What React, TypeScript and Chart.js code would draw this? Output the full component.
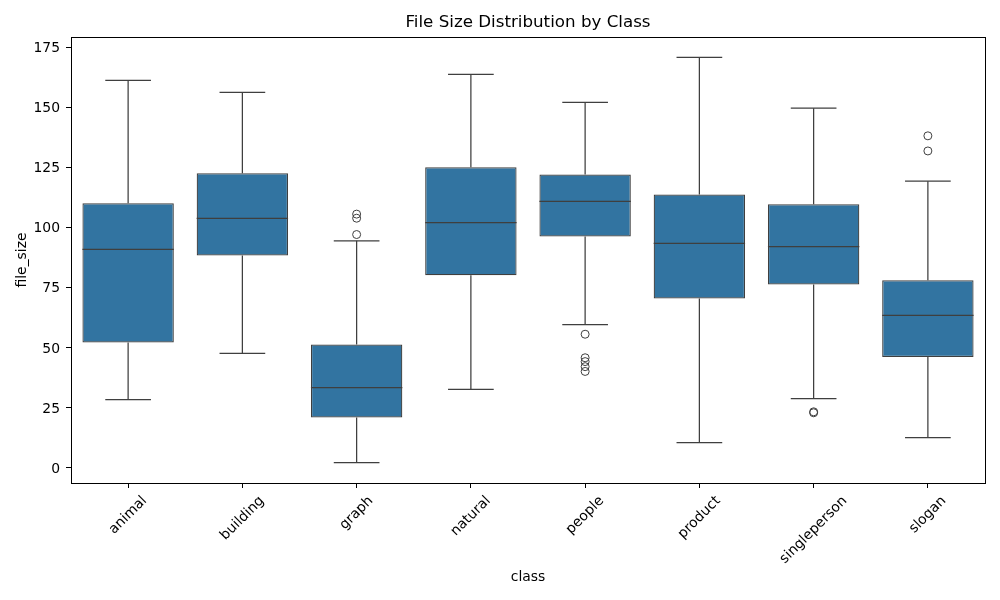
import React, { useEffect, useRef } from "react";
import { Chart, registerables } from "chart.js";

Chart.register(...registerables);

const categories = ["animal", "building", "graph", "natural", "people", "product", "singleperson", "slogan"];
const whiskerLow = [28.3, 47.5, 2.0, 32.5, 59.5, 10.4, 28.7, 12.5];
const q1 = [52.1, 88.3, 20.8, 80.0, 96.2, 70.4, 76.2, 46.0];
const median = [90.8, 103.7, 33.3, 102.0, 110.8, 93.3, 92.0, 63.3];
const q3 = [110.0, 122.5, 51.2, 125.0, 122.0, 113.7, 109.6, 78.0];
const whiskerHigh = [161.2, 156.2, 94.4, 163.7, 152.0, 170.8, 149.6, 119.2];
const outlierClass = ["graph", "graph", "graph", "people", "people", "people", "people", "people", "singleperson", "singleperson", "slogan", "slogan"];
const outlierValue = [97.0, 103.8, 105.5, 55.5, 45.7, 44.1, 42.0, 40.0, 23.2, 22.8, 131.8, 138.1];
const yTicks = [0, 25, 50, 75, 100, 125, 150, 175];

const BOX = "#3274a1";
const LINE = "#3f3f3f";
const FONT = "'DejaVu Sans', sans-serif";

const allVals = [...whiskerLow, ...whiskerHigh, ...outlierValue];
const dMin = Math.min(...allVals);
const dMax = Math.max(...allVals);
const margin = (dMax - dMin) * 0.05;

const boxPlugin = {
  id: "boxExtras",
  afterDatasetsDraw(chart: any) {
    const { ctx } = chart;
    const x = chart.scales.x;
    const y = chart.scales.y;
    const step = x.getPixelForValue(1) - x.getPixelForValue(0);
    const boxW = step * 0.8;
    ctx.save();
    ctx.strokeStyle = LINE;
    ctx.lineWidth = 1.25;
    categories.forEach((_, i) => {
      const cx = x.getPixelForValue(i);
      const cap = boxW / 4;
      const segs: [number, number, number, number][] = [
        [cx, y.getPixelForValue(q3[i]), cx, y.getPixelForValue(whiskerHigh[i])],
        [cx, y.getPixelForValue(q1[i]), cx, y.getPixelForValue(whiskerLow[i])],
        [cx - cap, y.getPixelForValue(whiskerHigh[i]), cx + cap, y.getPixelForValue(whiskerHigh[i])],
        [cx - cap, y.getPixelForValue(whiskerLow[i]), cx + cap, y.getPixelForValue(whiskerLow[i])],
        [cx - boxW / 2, y.getPixelForValue(median[i]), cx + boxW / 2, y.getPixelForValue(median[i])],
      ];
      segs.forEach(([x1, y1, x2, y2]) => {
        ctx.beginPath();
        ctx.moveTo(x1, y1);
        ctx.lineTo(x2, y2);
        ctx.stroke();
      });
    });
    ctx.restore();
  },
  afterDraw(chart: any) {
    const { ctx, chartArea } = chart;
    const x = chart.scales.x;
    ctx.save();
    // frame
    ctx.strokeStyle = "#000";
    ctx.lineWidth = 1;
    ctx.strokeRect(
      Math.round(chartArea.left) + 0.5,
      Math.round(chartArea.top) + 0.5,
      Math.round(chartArea.right - chartArea.left),
      Math.round(chartArea.bottom - chartArea.top)
    );
    // title
    ctx.fillStyle = "#000";
    ctx.font = `16.7px ${FONT}`;
    ctx.textAlign = "center";
    ctx.textBaseline = "middle";
    ctx.fillText("File Size Distribution by Class", (chartArea.left + chartArea.right) / 2, 23);
    // rotated x tick labels, centred under each tick
    ctx.font = `13.9px ${FONT}`;
    const h = 16;
    const top = chartArea.bottom + 10;
    categories.forEach((label, i) => {
      const cx = x.getPixelForValue(i);
      const w = ctx.measureText(label).width;
      const cy = top + (w + h) / (2 * Math.SQRT2);
      ctx.save();
      ctx.translate(cx, cy);
      ctx.rotate(-Math.PI / 4);
      ctx.fillText(label, 0, 0);
      ctx.restore();
    });
    ctx.restore();
  },
};

export default function App() {
  const ref = useRef<HTMLCanvasElement>(null);
  useEffect(() => {
    if (!ref.current) return;
    const chart = new Chart(ref.current, {
      type: "bar",
      data: {
        labels: categories,
        datasets: [
          {
            type: "bar",
            data: categories.map((_, i) => [q1[i], q3[i]]) as any,
            backgroundColor: BOX,
            borderColor: LINE,
            borderWidth: 1.25,
            borderSkipped: false,
            barPercentage: 0.8,
            categoryPercentage: 1.0,
          } as any,
          {
            type: "scatter",
            data: outlierClass.map((c, i) => ({ x: c, y: outlierValue[i] })) as any,
            pointRadius: 4,
            pointBackgroundColor: "rgba(0,0,0,0)",
            pointBorderColor: LINE,
            pointBorderWidth: 1,
            showLine: false,
          } as any,
        ],
      },
      options: {
        animation: false,
        responsive: false,
        devicePixelRatio: 1,
        layout: { padding: { top: 37, right: 15, left: 0, bottom: 0 } },
        plugins: { legend: { display: false }, tooltip: { enabled: false }, title: { display: false } },
        scales: {
          x: {
            type: "category",
            offset: true,
            grid: { display: true, offset: false, drawOnChartArea: false, drawTicks: true, tickLength: 5, color: "#000" },
            border: { display: false },
            ticks: { display: false },
            title: {
              display: true,
              text: "class",
              color: "#000",
              font: { family: FONT, size: 13.9 },
              padding: { top: 0, bottom: 14 },
            },
            afterFit: (s: any) => {
              s.height = 117;
            },
          },
          y: {
            type: "linear",
            min: dMin - margin,
            max: dMax + margin,
            afterBuildTicks: (s: any) => {
              s.ticks = yTicks.map((v) => ({ value: v }));
            },
            grid: { display: true, drawOnChartArea: false, drawTicks: true, tickLength: 5, color: "#000" },
            border: { display: false },
            ticks: {
              color: "#000",
              padding: 6,
              labelOffset: 1.5,
              font: { family: FONT, size: 13.9 },
              includeBounds: false,
            },
            title: {
              display: true,
              text: "file_size",
              color: "#000",
              font: { family: FONT, size: 13.9 },
              padding: { top: 14, bottom: 0 },
            },
            afterFit: (s: any) => {
              s.width = 71;
            },
          },
        },
      },
      plugins: [boxPlugin],
    });
    return () => chart.destroy();
  }, []);
  return (
    <div style={{ position: "absolute", left: 0, top: 0, width: 1000, height: 600 }}>
      <canvas ref={ref} width={1000} height={600} style={{ width: 1000, height: 600 }} />
    </div>
  );
}
